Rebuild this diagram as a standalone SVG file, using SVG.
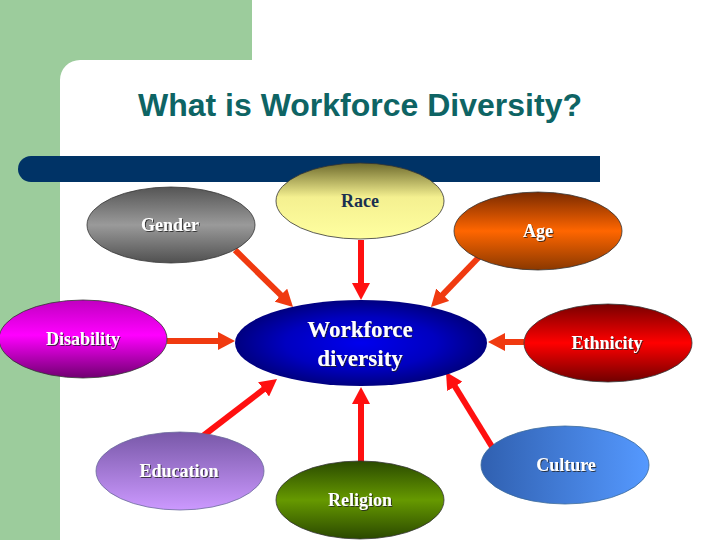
<svg xmlns="http://www.w3.org/2000/svg" width="720" height="540" viewBox="0 0 720 540">
<defs>
<linearGradient id="gRace" x1="0" y1="0" x2="0" y2="1"><stop offset="0" stop-color="#6e6a2c"/><stop offset="0.45" stop-color="#f4f090"/><stop offset="1" stop-color="#ffffa0"/></linearGradient>
<linearGradient id="gGender" x1="0" y1="0" x2="0" y2="1"><stop offset="0" stop-color="#555"/><stop offset="0.5" stop-color="#9a9a9a"/><stop offset="1" stop-color="#505050"/></linearGradient>
<linearGradient id="gAge" x1="0" y1="0" x2="0" y2="1"><stop offset="0" stop-color="#7a2a00"/><stop offset="0.5" stop-color="#ff6600"/><stop offset="1" stop-color="#8a3800"/></linearGradient>
<linearGradient id="gDis" x1="0" y1="0" x2="0" y2="1"><stop offset="0" stop-color="#c000c0"/><stop offset="0.45" stop-color="#ff00ff"/><stop offset="1" stop-color="#700070"/></linearGradient>
<linearGradient id="gEth" x1="0" y1="0" x2="0" y2="1"><stop offset="0" stop-color="#780000"/><stop offset="0.5" stop-color="#ff0000"/><stop offset="1" stop-color="#700000"/></linearGradient>
<linearGradient id="gEdu" x1="0" y1="0" x2="0" y2="1"><stop offset="0" stop-color="#7858a8"/><stop offset="1" stop-color="#cc99ff"/></linearGradient>
<linearGradient id="gRel" x1="0" y1="0" x2="0" y2="1"><stop offset="0" stop-color="#2a4a00"/><stop offset="0.5" stop-color="#669900"/><stop offset="1" stop-color="#2a4800"/></linearGradient>
<linearGradient id="gCul" x1="0" y1="0" x2="1" y2="0"><stop offset="0" stop-color="#3060b0"/><stop offset="1" stop-color="#5599ff"/></linearGradient>
<radialGradient id="gCen" cx="0.5" cy="0.5" r="0.5"><stop offset="0" stop-color="#0000ee"/><stop offset="0.6" stop-color="#0000c0"/><stop offset="1" stop-color="#000080"/></radialGradient>
<filter id="sh" x="-10%" y="-30%" width="130%" height="160%"><feDropShadow dx="1" dy="1" stdDeviation="0.4" flood-color="#222" flood-opacity="0.8"/></filter>
<marker id="aR" markerUnits="userSpaceOnUse" markerWidth="17" markerHeight="18" refX="9" refY="9" orient="auto"><path d="M0,0 L17,9 L0,18 z" fill="#ff1010"/></marker>
<marker id="aO" markerUnits="userSpaceOnUse" markerWidth="17" markerHeight="18" refX="9" refY="9" orient="auto"><path d="M0,0 L17,9 L0,18 z" fill="#f03a10"/></marker>
</defs>
<style>
.n{stroke:#333;stroke-width:0.8}
.t{font-family:"Liberation Serif","Times New Roman",serif;font-weight:bold;font-size:18px;fill:#fff;text-anchor:middle;filter:url(#sh)}
.r{stroke:#ff1010;stroke-width:6;fill:none;marker-end:url(#aR)}
.o{stroke:#f03a10;stroke-width:6;fill:none;marker-end:url(#aO)}
</style>
<rect x="0" y="0" width="720" height="540" fill="#fff"/>
<path d="M0,0 H252 V60 H80 A20,20 0 0 0 60,80 V540 H0 z" fill="#9ccc9c"/>
<text x="360" y="116" font-family="Liberation Sans, Arial, sans-serif" font-weight="bold" font-size="32" fill="#0e6464" text-anchor="middle" textLength="444" lengthAdjust="spacingAndGlyphs">What is Workforce Diversity?</text>
<path d="M31,156 H600 V182 H31 A13,13 0 0 1 18,169 A13,13 0 0 1 31,156 z" fill="#003366"/>
<g id="connectors">
<line class="o" x1="235" y1="250" x2="287.3" y2="301.4"/>
<line class="r" x1="361" y1="240" x2="361" y2="292"/>
<line class="o" x1="479" y1="257" x2="436.5" y2="301.2"/>
<line class="o" x1="167" y1="341" x2="227" y2="341"/>
<line class="o" x1="524" y1="342" x2="496" y2="342"/>
<line class="r" x1="199" y1="439" x2="270.7" y2="383.9"/>
<line class="r" x1="361" y1="462" x2="361" y2="395"/>
<line class="r" x1="494" y1="450" x2="450.2" y2="378.8"/>
</g>
<g id="race"><ellipse class="n" cx="360" cy="201" rx="84" ry="38" fill="url(#gRace)"/><text class="t" x="360" y="207" style="fill:#1a3050;filter:none">Race</text></g>
<g id="gender"><ellipse class="n" cx="171" cy="225" rx="84" ry="38" fill="url(#gGender)"/><text class="t" x="170" y="231">Gender</text></g>
<g id="age"><ellipse class="n" cx="538" cy="231" rx="84" ry="39" fill="url(#gAge)"/><text class="t" x="538" y="237">Age</text></g>
<g id="disability"><ellipse class="n" cx="83" cy="339" rx="84" ry="39" fill="url(#gDis)"/><text class="t" x="83" y="345">Disability</text></g>
<g id="center"><ellipse cx="361" cy="343" rx="126" ry="43" fill="url(#gCen)"/><text class="t" x="360" y="337" style="font-size:23px">Workforce</text><text class="t" x="360" y="366" style="font-size:23px">diversity</text></g>
<g id="ethnicity"><ellipse class="n" cx="608" cy="343" rx="84" ry="39" fill="url(#gEth)"/><text class="t" x="607" y="349">Ethnicity</text></g>
<g id="education"><ellipse class="n" cx="180" cy="471" rx="84" ry="39" fill="url(#gEdu)" style="stroke:#6a6a9a"/><text class="t" x="179" y="477">Education</text></g>
<g id="religion"><ellipse class="n" cx="360" cy="500" rx="84" ry="39" fill="url(#gRel)"/><text class="t" x="360" y="506">Religion</text></g>
<g id="culture"><ellipse class="n" cx="565" cy="465" rx="84" ry="39" fill="url(#gCul)" style="stroke:#3a6a9a"/><text class="t" x="566" y="471">Culture</text></g>
</svg>
